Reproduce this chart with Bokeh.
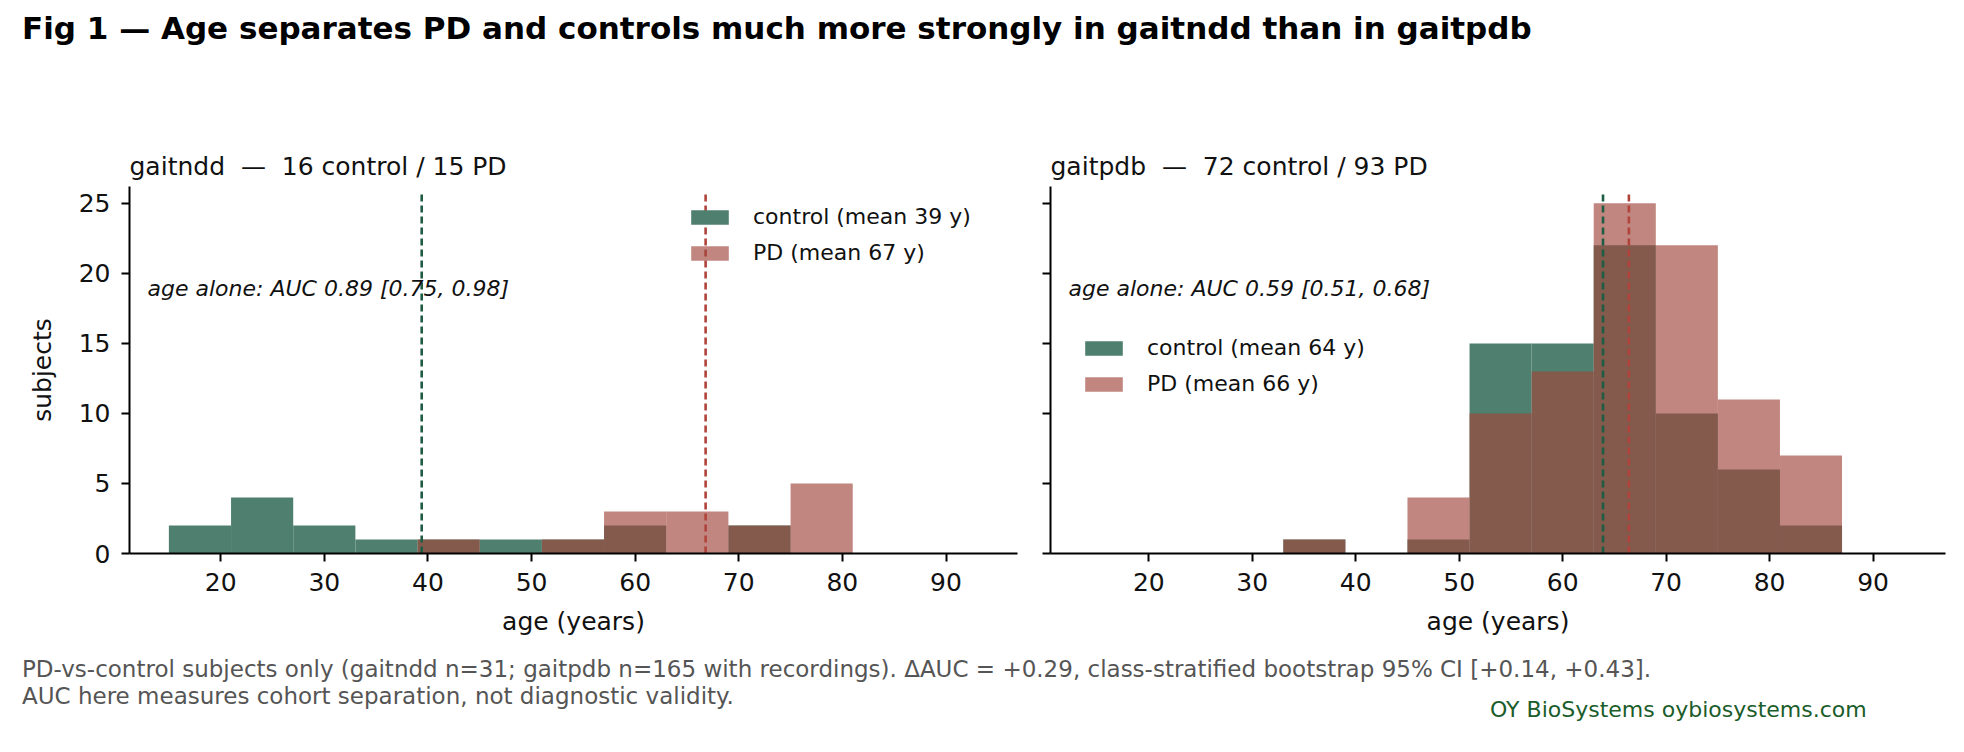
from bokeh.plotting import figure
from bokeh.models import Div, Label, Legend, LegendItem
from bokeh.layouts import column, row
from bokeh.embed import file_html
from bokeh.resources import INLINE

bin_edges = [15, 21, 27, 33, 39, 45, 51, 57, 63, 69, 75, 81, 87]
ndd_control = [2, 4, 2, 1, 1, 1, 1, 2, 0, 2, 0, 0]
ndd_pd = [0, 0, 0, 0, 1, 0, 1, 3, 3, 2, 5, 0]
pdb_control = [0, 0, 0, 1, 0, 1, 15, 15, 22, 10, 6, 2]
pdb_pd = [0, 0, 0, 1, 0, 4, 10, 13, 25, 22, 11, 7]
ndd_means = [39.4, 66.8]
pdb_means = [63.9, 66.4]
NB = "\u00a0"
titles = ["gaitndd" + NB * 2 + "\u2014" + NB * 2 + "16 control / 15 PD",
          "gaitpdb" + NB * 2 + "\u2014" + NB * 2 + "72 control / 93 PD"]
auc_texts = ["age alone: AUC 0.89 [0.75, 0.98]", "age alone: AUC 0.59 [0.51, 0.68]"]
legend_labels = [["control (mean 39 y)", "PD (mean 67 y)"], ["control (mean 64 y)", "PD (mean 66 y)"]]

FONT = "DejaVu Sans"
C_CTRL = "#4f7f6f"
C_PD = "#a0463b"
L_CTRL = "#1f5c44"
L_PD = "#b0443c"
TXT = "#111111"

def panel(ctrl, pd_, means, title, auc, labels, xr, left_border, right_border, frame_w, show_ylab, leg_loc):
    p = figure(frame_width=frame_w, frame_height=367, x_range=xr, y_range=(0, 26.2),
               output_backend="svg", toolbar_location=None,
               min_border_left=left_border, min_border_right=right_border,
               min_border_top=86, min_border_bottom=95, title=title)
    p.title.text_font = FONT
    p.title.text_font_size = "25px"
    p.title.text_font_style = "normal"
    p.title.text_color = TXT
    p.title.align = "left"
    p.title.offset = 0
    p.title.standoff = 12
    p.outline_line_color = None
    p.grid.visible = False
    left = bin_edges[:-1]
    right = bin_edges[1:]
    r1 = p.quad(left=left, right=right, bottom=0, top=ctrl, fill_color=C_CTRL, line_color=None)
    r2 = p.quad(left=left, right=right, bottom=0, top=pd_, fill_color=C_PD, fill_alpha=0.653, line_color=None)
    p.segment(x0=[means[0]], x1=[means[0]], y0=[0], y1=[25.8], line_color=L_CTRL, line_width=2.6, line_dash="7 4")
    p.segment(x0=[means[1]], x1=[means[1]], y0=[0], y1=[25.8], line_color=L_PD, line_width=2.6, line_dash="7 4")
    p.add_layout(Label(x=18, y=265, x_units="screen", y_units="screen", text=auc,
                       text_font=FONT, text_font_size="22px", text_font_style="italic",
                       text_baseline="middle", text_color=TXT))
    leg = Legend(items=[LegendItem(label=labels[0], renderers=[r1]),
                        LegendItem(label=labels[1], renderers=[r2])],
                 location=leg_loc, label_text_font=FONT, label_text_font_size="22px",
                 label_text_color=TXT,
                 glyph_width=47, glyph_height=18, label_height=29, spacing=7,
                 label_standoff=20, padding=0, margin=0,
                 border_line_color=None, background_fill_alpha=0)
    p.add_layout(leg)
    p.xaxis.ticker = [20, 30, 40, 50, 60, 70, 80, 90]
    p.yaxis.ticker = [0, 5, 10, 15, 20, 25]
    for ax in (p.xaxis, p.yaxis):
        ax.major_label_text_font = FONT
        ax.major_label_text_font_size = "25px"
        ax.major_label_text_color = TXT
        ax.axis_label_text_font = FONT
        ax.axis_label_text_font_size = "25px"
        ax.axis_label_text_font_style = "normal"
        ax.axis_label_text_color = TXT
        ax.minor_tick_line_color = None
        ax.major_tick_out = 8
        ax.major_tick_in = 0
        ax.axis_line_width = 2
        ax.major_tick_line_width = 2
        ax.axis_line_color = "#000000"
        ax.major_tick_line_color = "#000000"
        ax.major_label_standoff = 11
    p.xaxis.axis_label = "age (years)"
    p.xaxis.axis_label_standoff = 13
    if show_ylab:
        p.yaxis.axis_label = "subjects"
        p.yaxis.axis_label_standoff = 19
    else:
        p.yaxis.major_label_text_color = None
    return p

p1 = panel(ndd_control, ndd_pd, ndd_means, titles[0], auc_texts[0], legend_labels[0],
           (11.2, 96.9), 129, 13, 888, True, (557, 286))
p2 = panel(pdb_control, pdb_pd, pdb_means, titles[1], auc_texts[1], legend_labels[1],
           (10.5, 97.0), 20, 2, 895, False, (30, 155))

title = Div(text="Fig 1 \u2014 Age separates PD and controls much more strongly in gaitndd than in gaitpdb",
            width=1950, height=100, margin=(0, 0, 0, 0),
            styles={"font-family": FONT, "font-size": "31px", "font-weight": "bold",
                    "line-height": "56px", "padding-left": "22px", "color": "#000"})
foot = Div(text=("<div style='position:relative;width:1950px;height:90px'>"
                 "<div style='position:absolute;left:22px;top:8px;line-height:27px;color:#555;font-size:23px;white-space:nowrap'>"
                 "PD-vs-control subjects only (gaitndd n=31; gaitpdb n=165 with recordings). "
                 "\u0394AUC = +0.29, class-stratified bootstrap 95% CI [+0.14, +0.43].<br>"
                 "AUC here measures cohort separation, not diagnostic validity.</div>"
                 "<div style='position:absolute;left:1490px;top:48px;line-height:27px;color:#1a5c2a;font-size:22px;white-space:nowrap'>"
                 "OY BioSystems oybiosystems.com</div></div>"),
           width=1950, height=90, margin=(0, 0, 0, 0),
           styles={"font-family": FONT})

layout = column(title, row(p1, p2, margin=(0, 0, 0, 0)), foot, margin=(0, 0, 0, 0))
open("out.html", "w").write(file_html(layout, INLINE))
